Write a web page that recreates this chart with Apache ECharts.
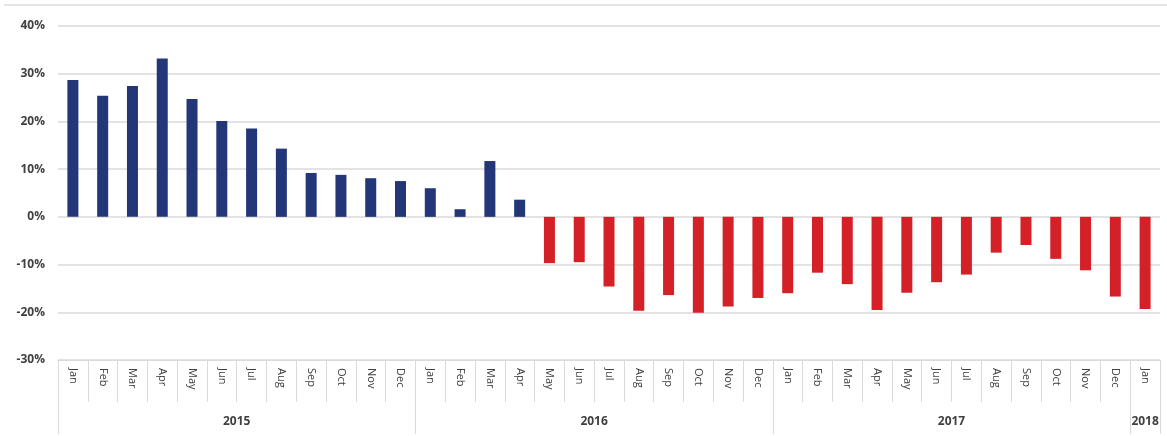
<!DOCTYPE html>
<html>
<head>
<meta charset="utf-8">
<script src="https://cdn.jsdelivr.net/npm/echarts@6/dist/echarts.min.js"></script>
<style>
  html, body { margin: 0; padding: 0; background: #fff; }
  #main { width: 1167px; height: 436px; }
</style>
</head>
<body>
<div id="main"></div>
<script>
// month labels, Jan 2015 .. Jan 2018
var months = ['Jan','Feb','Mar','Apr','May','Jun','Jul','Aug','Sep','Oct','Nov','Dec',
              'Jan','Feb','Mar','Apr','May','Jun','Jul','Aug','Sep','Oct','Nov','Dec',
              'Jan','Feb','Mar','Apr','May','Jun','Jul','Aug','Sep','Oct','Nov','Dec',
              'Jan'];
// yearly growth, %
var values2015 = [28.7, 25.4, 27.4, 33.2, 24.7, 20.1, 18.5, 14.3, 9.2, 8.8, 8.1, 7.5];
var values2016 = [6.0, 1.6, 11.7, 3.6, -9.7, -9.5, -14.6, -19.7, -16.4, -20.1, -18.8, -17.0];
var values2017 = [-16.0, -11.7, -14.1, -19.5, -15.9, -13.7, -12.1, -7.5, -5.9, -8.8, -11.2, -16.7];
var values2018 = [-19.3];
var years = ['2015', '2016', '2017', '2018'];
var yearMonthCounts = [12, 12, 12, 1];
var yTicks = [-30, -20, -10, 0, 10, 20, 30, 40];

var values = values2015.concat(values2016, values2017, values2018);

// half-month slots for the year row: slot i sits at i/2 months from the left edge
var yearSlots = [];
var yearLabelAt = {};
var yearBoundAt = {};
var start = 0;
yearMonthCounts.forEach(function (n, k) {
    yearBoundAt[start * 2] = true;
    yearLabelAt[start * 2 + n] = years[k];
    start += n;
});
yearBoundAt[start * 2] = true;
for (var i = 0; i <= start * 2; i++) {
    yearSlots.push(yearLabelAt[i] || '');
}

var gridColor = '#dadada';
var labelFont = '"Open Sans", "Liberation Sans", sans-serif';

var myChart = echarts.init(document.getElementById('main'));
myChart.setOption({
    animation: false,
    grid: { left: 58, right: 7, top: 26, bottom: 76 },
    graphic: [{
        type: 'line',
        shape: { x1: 4, y1: 5, x2: 1167, y2: 5 },
        style: { stroke: '#e3e3e3', lineWidth: 2 }
    }],
    xAxis: [
        {
            type: 'category',
            data: months,
            position: 'bottom',
            axisLine: { onZero: false, lineStyle: { color: gridColor } },
            axisTick: { show: true, interval: 0, length: 42, lineStyle: { color: gridColor } },
            axisLabel: {
                interval: 0,
                rotate: -90,
                margin: 8,
                fontSize: 11,
                color: '#404040',
                fontFamily: labelFont
            }
        },
        {
            type: 'category',
            data: yearSlots,
            boundaryGap: false,
            position: 'bottom',
            offset: 42,
            axisLine: { show: false, onZero: false },
            splitLine: { show: false },
            axisTick: {
                show: true,
                length: 32,
                interval: function (idx) { return !!yearBoundAt[idx]; },
                lineStyle: { color: gridColor }
            },
            axisLabel: {
                interval: function (idx, val) { return val !== ''; },
                margin: 14,
                fontSize: 12,
                fontWeight: 'bold',
                color: '#404040',
                fontFamily: labelFont
            }
        }
    ],
    yAxis: {
        type: 'value',
        min: yTicks[0],
        max: yTicks[yTicks.length - 1],
        interval: 10,
        axisLine: { show: false },
        axisTick: { show: false },
        splitLine: { lineStyle: { color: gridColor, width: 1.5 } },
        axisLabel: {
            formatter: '{value}%',
            margin: 13,
            fontSize: 12,
            fontWeight: 'bold',
            color: '#404040',
            fontFamily: labelFont
        }
    },
    series: [{
        type: 'bar',
        data: values,
        barWidth: 11,
        itemStyle: {
            color: function (p) {
                return p.value >= 0 ? '#233678' : '#d42027';
            }
        }
    }]
});
</script>
</body>
</html>
